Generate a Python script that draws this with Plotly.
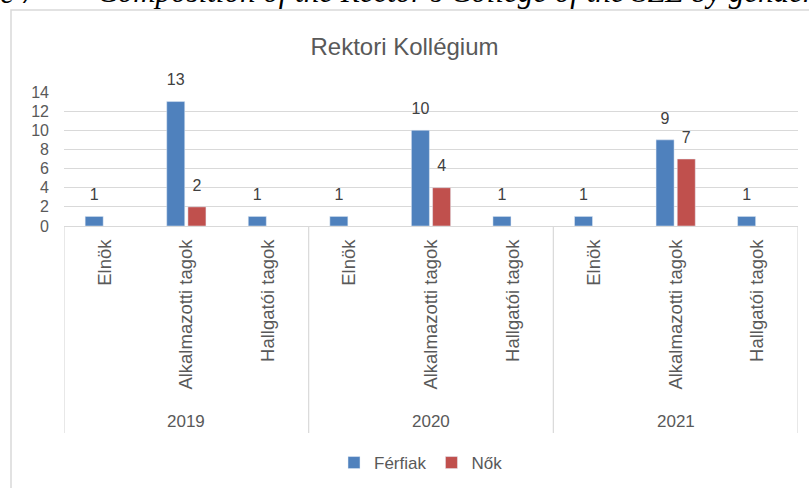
import plotly.graph_objects as go

# ---- data ----
years = ["2019", "2020", "2021"]
roles = ["Elnök", "Alkalmazotti tagok", "Hallgatói tagok"]
ferfiak = [1, 13, 1, 1, 10, 1, 1, 9, 1]
nok = [None, 2, None, None, 4, None, None, 7, None]
series_names = ["Férfiak", "Nők"]
title_text = "Rektori Kollégium"
caption_left = "Figure 7 –"
caption_right = "Composition of the Rector’s College of the SZE by gender"

# ---- layout constants (pixels) ----
W, H = 809, 488
L, R, T, B = 64, 11, 92, 262
PW, PH = W - L - R, H - T - B


def px_x(p):
    return (p - L) / PW


def px_y(p):
    return (H - B - p) / PH


BLUE = "#4F81BD"
RED = "#C0504D"
GRAY = "#595959"
GRID = "#D9D9D9"
FONT = "Liberation Sans"

labels = roles * len(years)
xpos = list(range(len(labels)))

fig = go.Figure()
fig.add_trace(go.Bar(x=xpos, y=ferfiak, name=series_names[0], marker_color=BLUE,
                     offsetgroup="f"))
fig.add_trace(go.Bar(x=xpos, y=nok, name=series_names[1], marker_color=RED,
                     offsetgroup="n"))
# data labels (aligned with the grouped bars)
for vals, grp in ((ferfiak, "f"), (nok, "n")):
    fig.add_trace(go.Scatter(
        x=xpos, y=vals, mode="markers+text", offsetgroup=grp,
        text=[("" if v is None else str(v)) for v in vals],
        textposition="top center",
        textfont=dict(family=FONT, size=16, color="#404040"),
        marker=dict(size=18, opacity=0),
        showlegend=False, hoverinfo="skip", cliponaxis=False))

shapes = []
# outer chart border
shapes.append(dict(type="rect", xref="paper", yref="paper",
                   x0=px_x(11), x1=px_x(W + 20), y0=px_y(10), y1=px_y(H + 20),
                   line=dict(color=GRID, width=1.5), fillcolor="rgba(0,0,0,0)", layer="below"))
# year dividers
n = len(roles)
for k in range(len(years) + 1):
    shapes.append(dict(type="line", xref="x", yref="paper",
                       x0=k * n - 0.5, x1=k * n - 0.5, y0=0, y1=px_y(433),
                       line=dict(color=GRID, width=1.2)))

annotations = []
for i, yr in enumerate(years):
    annotations.append(dict(x=i * n + (n - 1) / 2, y=px_y(421), xref="x", yref="paper",
                            text=yr, showarrow=False, yanchor="middle",
                            font=dict(family=FONT, size=17, color=GRAY)))
annotations.append(dict(x=px_x(62), y=px_y(11), xref="paper", yref="paper",
                        text="<i>" + caption_left + "</i>", showarrow=False,
                        xanchor="right", yanchor="bottom",
                        font=dict(family="Liberation Serif", size=30, color="#000")))
annotations.append(dict(x=px_x(95), y=px_y(11), xref="paper", yref="paper",
                        text="<i>" + caption_right + "</i>", showarrow=False,
                        xanchor="left", yanchor="bottom",
                        font=dict(family="Liberation Serif", size=31, color="#000")))

fig.update_layout(
    width=W, height=H,
    margin=dict(l=L, r=R, t=T, b=B, autoexpand=False),
    paper_bgcolor="white", plot_bgcolor="white",
    barmode="group", bargap=0.48, bargroupgap=0.15,
    scattermode="group", scattergap=0.48,
    title=dict(text=title_text, x=0.5, xanchor="center", y=1 - 47 / H, yanchor="middle",
               font=dict(family=FONT, size=24, color=GRAY)),
    xaxis=dict(tickmode="array", tickvals=xpos, ticktext=labels, tickangle=-90,
               range=[-0.5, len(labels) - 0.5], showgrid=False, zeroline=False,
               showline=True, linecolor=GRID, linewidth=1.2, ticks="",
               ticklabelstandoff=5,
               tickfont=dict(family=FONT, size=18.5, color=GRAY)),
    yaxis=dict(range=[0, 14], dtick=2, showgrid=True, gridcolor=GRID, gridwidth=1.2,
               zeroline=False, showline=False, ticks="", ticklabelstandoff=14,
               tickfont=dict(family=FONT, size=16, color=GRAY)),
    legend=dict(orientation="h", x=px_x(421), xanchor="center", y=px_y(463), yanchor="middle",
                font=dict(family=FONT, size=17, color=GRAY), traceorder="normal"),
    shapes=shapes, annotations=annotations,
)

fig.write_html("out.html", config={"displayModeBar": False},
               post_script="document.body.style.margin='0';")
